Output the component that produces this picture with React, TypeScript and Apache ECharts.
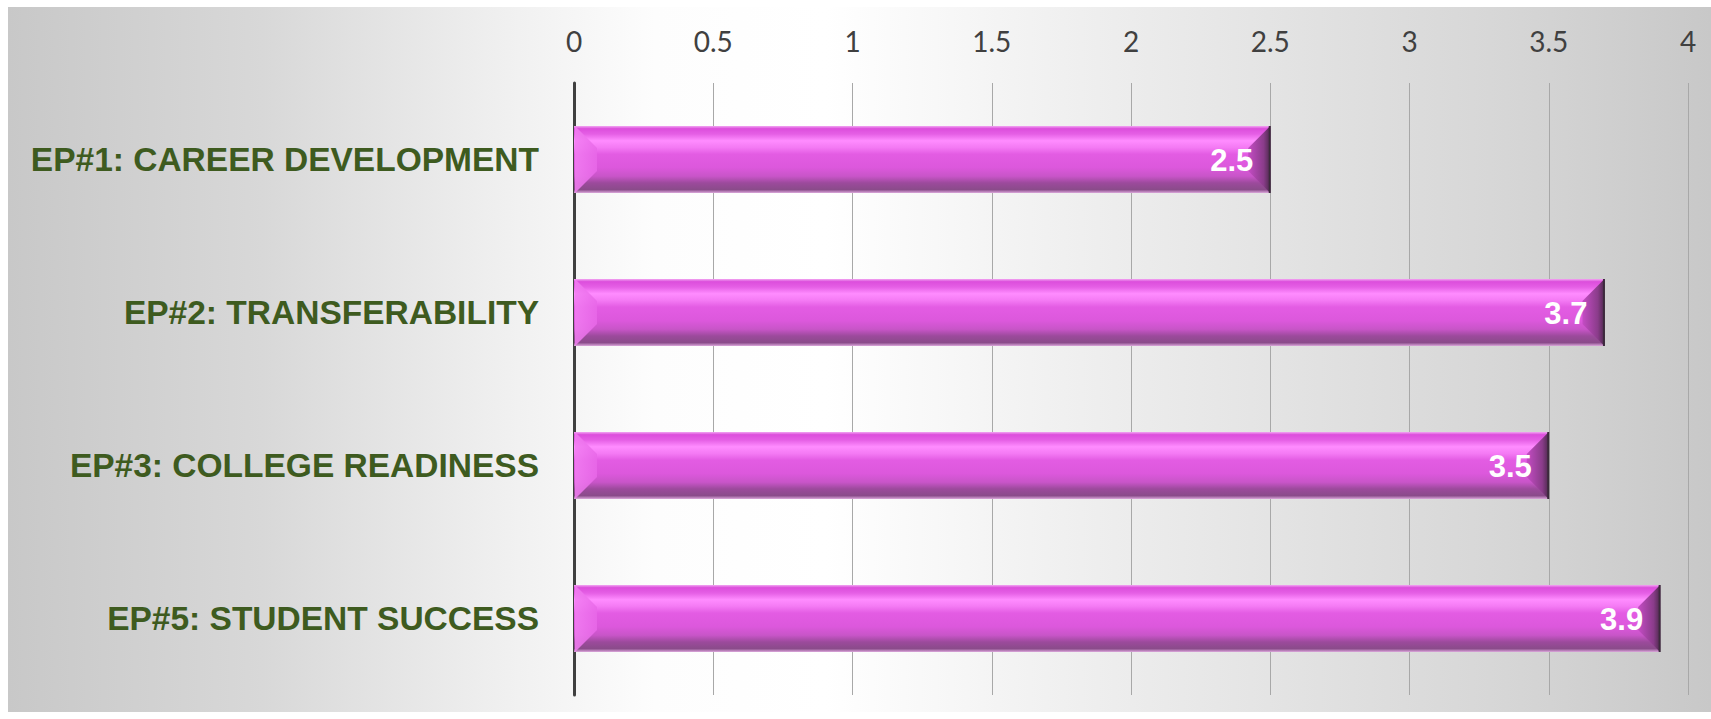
import React, { useEffect, useRef } from "react";
import * as echarts from "echarts";

const categories = [
  "EP#1: CAREER DEVELOPMENT",
  "EP#2: TRANSFERABILITY",
  "EP#3: COLLEGE READINESS",
  "EP#5: STUDENT SUCCESS",
];
const values = [2.5, 3.7, 3.5, 3.9];
const axisMin = 0;
const axisMax = 4;
const axisStep = 0.5;

const BAR_W = 67;
const BEVEL = 22;

export default function App() {
  const ref = useRef<HTMLDivElement>(null);
  useEffect(() => {
    if (!ref.current) return;
    const chart = echarts.init(ref.current, undefined, { renderer: "svg" });
    const barGradient = new echarts.graphic.LinearGradient(0, 0, 0, 1, [
      { offset: 0, color: "#F2A6F2" },
      { offset: 0.04, color: "#DC4EDC" },
      { offset: 0.12, color: "#E55FE5" },
      { offset: 0.22, color: "#FF8CFF" },
      { offset: 0.32, color: "#F47AF4" },
      { offset: 0.42, color: "#E35CE3" },
      { offset: 0.62, color: "#DC58DC" },
      { offset: 0.75, color: "#C855C8" },
      { offset: 0.85, color: "#9C4A9C" },
      { offset: 0.95, color: "#8A4B8A" },
      { offset: 1, color: "#DCA8DC" },
    ]);
    chart.setOption({
      animation: false,
      backgroundColor: new echarts.graphic.LinearGradient(0, 0, 1, 0, [
        { offset: 0, color: "#C8C8C8" },
        { offset: 0.15, color: "#D8D8D8" },
        { offset: 0.28, color: "#EEEEEE" },
        { offset: 0.38, color: "#FDFDFD" },
        { offset: 0.48, color: "#FFFFFF" },
        { offset: 0.6, color: "#F2F2F2" },
        { offset: 0.74, color: "#E4E4E4" },
        { offset: 0.88, color: "#D6D6D6" },
        { offset: 1, color: "#C8C8C8" },
      ]),
      grid: {
        left: 566,
        right: 23,
        top: 76,
        bottom: 17,
        containLabel: false,
        outerBoundsMode: "none",
      },
      xAxis: {
        type: "value",
        position: "top",
        min: axisMin,
        max: axisMax,
        interval: axisStep,
        axisLine: { show: false },
        axisTick: { show: false },
        splitLine: { show: true, lineStyle: { color: "#A8A8A8", width: 1 } },
        axisLabel: {
          margin: 28,
          color: "#404040",
          fontSize: 28,
          fontFamily: "Lato",
          fontWeight: 400,
        },
      },
      yAxis: {
        type: "category",
        data: categories,
        inverse: true,
        axisTick: { show: false },
        axisLine: { show: true, lineStyle: { color: "#404040", width: 3 } },
        axisLabel: {
          margin: 35,
          color: "#3E5B1F",
          fontSize: 33.5,
          fontWeight: "bold",
          fontFamily: "Liberation Sans",
        },
      },
      series: [
        {
          type: "bar",
          data: values,
          barWidth: BAR_W,
          itemStyle: { color: barGradient },
          z: 2,
        },
        {
          type: "custom",
          coordinateSystem: "cartesian2d",
          data: values.map((v, i) => [v, i]),
          encode: { x: 0, y: 1 },
          z: 3,
          renderItem: (params: any, api: any) => {
            const v = api.value(0);
            const idx = api.value(1);
            const end = api.coord([v, idx]);
            const start = api.coord([0, idx]);
            const xe = end[0];
            const x0 = start[0] + 1;
            const yc = end[1];
            const h = BAR_W / 2;
            const b = BEVEL;
            return {
              type: "group",
              children: [
                {
                  type: "polygon",
                  shape: {
                    points: [
                      [x0, yc - h],
                      [x0 + b, yc - h + b],
                      [x0 + b, yc + h - b],
                      [x0, yc + h],
                    ],
                  },
                  style: {
                    fill: new echarts.graphic.LinearGradient(0, 0, 1, 0, [
                      { offset: 0, color: "#F27EF2" },
                      { offset: 1, color: "#E868E8" },
                    ]),
                    opacity: 0.85,
                  },
                },
                {
                  type: "polygon",
                  shape: {
                    points: [
                      [xe, yc - h],
                      [xe, yc + h],
                      [xe - b, yc + h - b],
                      [xe - b, yc - h + b],
                    ],
                  },
                  style: {
                    fill: new echarts.graphic.LinearGradient(0, 0, 1, 0, [
                      { offset: 0, color: "#C44CC4" },
                      { offset: 0.7, color: "#8A3C8A" },
                      { offset: 1, color: "#4E2A4E" },
                    ]),
                  },
                },
                {
                  type: "line",
                  shape: { x1: xe - 0.5, y1: yc - h, x2: xe - 0.5, y2: yc + h },
                  style: { stroke: "#3C2A3C", lineWidth: 2 },
                },
                {
                  type: "text",
                  x: xe - 17,
                  y: yc + 1,
                  style: {
                    text: String(v),
                    fill: "#FFFFFF",
                    fontSize: 31,
                    fontWeight: "bold",
                    fontFamily: "Liberation Sans",
                    align: "right",
                    verticalAlign: "middle",
                  },
                },
              ],
            };
          },
        },
      ],
    });
    return () => chart.dispose();
  }, []);
  return (
    <div
      ref={ref}
      style={{ position: "absolute", left: 8, top: 7, width: 1703, height: 705 }}
    />
  );
}
